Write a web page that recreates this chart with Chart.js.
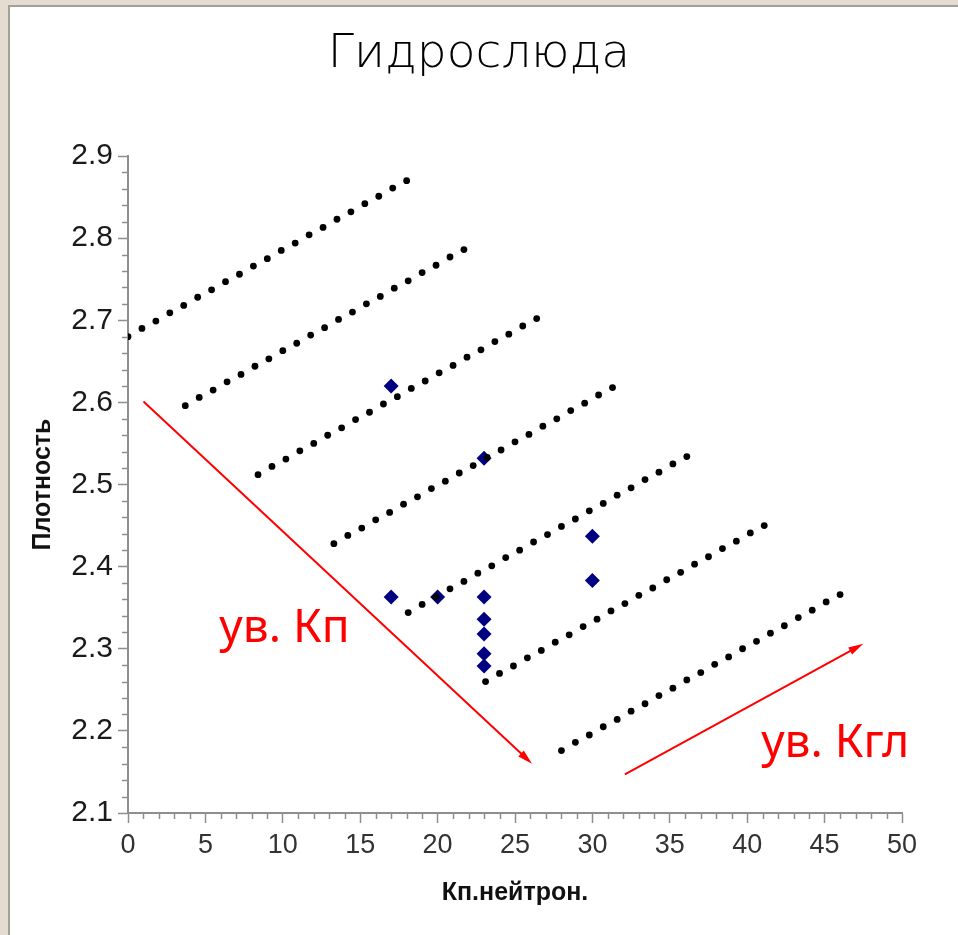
<!DOCTYPE html>
<html lang="ru">
<head>
<meta charset="utf-8">
<title>Гидрослюда</title>
<script src="https://cdn.jsdelivr.net/npm/chart.js@4.4.1/dist/chart.umd.min.js"></script>
<style>
  html, body { margin: 0; padding: 0; }
  body { width: 958px; height: 935px; background: #e4dcd0; position: relative; overflow: hidden; }
  .panel { position: absolute; left: 8px; top: 5px; right: 0; bottom: 0; background: #fff;
           border-left: 2px solid #a3a09a; border-top: 2px solid #a3a09a; }
  .wrap { position: absolute; left: 0; top: 0; width: 958px; height: 935px; }
</style>
</head>
<body>
<div class="panel"></div>
<div class="wrap"><canvas id="chart"></canvas></div>
<script>
// lines of equal porosity: density vs neutron porosity as clay content grows
const iso1X = [0, 0.9, 1.8, 2.7, 3.6, 4.5, 5.4, 6.3, 7.2, 8.1, 9.0, 9.9, 10.8, 11.7, 12.6, 13.5, 14.4, 15.3, 16.2, 17.1, 18.0];
const iso1Y = [2.680, 2.690, 2.699, 2.709, 2.718, 2.728, 2.737, 2.747, 2.756, 2.766, 2.775, 2.785, 2.794, 2.804, 2.813, 2.823, 2.832, 2.842, 2.851, 2.861, 2.870];
const iso2X = [3.7, 4.6, 5.5, 6.4, 7.3, 8.2, 9.1, 10.0, 10.9, 11.8, 12.7, 13.6, 14.5, 15.4, 16.3, 17.2, 18.1, 19.0, 19.9, 20.8, 21.7];
const iso2Y = [2.596, 2.606, 2.615, 2.625, 2.634, 2.644, 2.653, 2.663, 2.672, 2.682, 2.691, 2.701, 2.710, 2.720, 2.729, 2.739, 2.748, 2.758, 2.767, 2.777, 2.786];
const iso3X = [8.4, 9.3, 10.2, 11.1, 12.0, 12.9, 13.8, 14.7, 15.6, 16.5, 17.4, 18.3, 19.2, 20.1, 21.0, 21.9, 22.8, 23.7, 24.6, 25.5, 26.4];
const iso3Y = [2.512, 2.522, 2.531, 2.541, 2.550, 2.560, 2.569, 2.579, 2.588, 2.598, 2.607, 2.617, 2.626, 2.636, 2.645, 2.655, 2.664, 2.674, 2.683, 2.693, 2.702];
const iso4X = [13.3, 14.2, 15.1, 16.0, 16.9, 17.8, 18.7, 19.6, 20.5, 21.4, 22.3, 23.2, 24.1, 25.0, 25.9, 26.8, 27.7, 28.6, 29.5, 30.4, 31.3];
const iso4Y = [2.428, 2.438, 2.447, 2.457, 2.466, 2.476, 2.485, 2.495, 2.504, 2.514, 2.523, 2.533, 2.542, 2.552, 2.561, 2.571, 2.580, 2.590, 2.599, 2.609, 2.618];
const iso5X = [18.1, 19.0, 19.9, 20.8, 21.7, 22.6, 23.5, 24.4, 25.3, 26.2, 27.1, 28.0, 28.9, 29.8, 30.7, 31.6, 32.5, 33.4, 34.3, 35.2, 36.1];
const iso5Y = [2.344, 2.354, 2.363, 2.373, 2.382, 2.392, 2.401, 2.411, 2.420, 2.430, 2.439, 2.449, 2.458, 2.468, 2.477, 2.487, 2.496, 2.506, 2.515, 2.525, 2.534];
const iso6X = [23.1, 24.0, 24.9, 25.8, 26.7, 27.6, 28.5, 29.4, 30.3, 31.2, 32.1, 33.0, 33.9, 34.8, 35.7, 36.6, 37.5, 38.4, 39.3, 40.2, 41.1];
const iso6Y = [2.260, 2.270, 2.279, 2.289, 2.298, 2.308, 2.317, 2.327, 2.336, 2.346, 2.355, 2.365, 2.374, 2.384, 2.393, 2.403, 2.412, 2.422, 2.431, 2.441, 2.450];
const iso7X = [28.0, 28.9, 29.8, 30.7, 31.6, 32.5, 33.4, 34.3, 35.2, 36.1, 37.0, 37.9, 38.8, 39.7, 40.6, 41.5, 42.4, 43.3, 44.2, 45.1, 46.0];
const iso7Y = [2.176, 2.186, 2.195, 2.205, 2.214, 2.224, 2.233, 2.243, 2.252, 2.262, 2.271, 2.281, 2.290, 2.300, 2.309, 2.319, 2.328, 2.338, 2.347, 2.357, 2.366];

// measured samples
const sampleX = [17, 23, 30, 30, 17, 20, 23, 23, 23, 23, 23];
const sampleY = [2.620, 2.532, 2.437, 2.383, 2.363, 2.363, 2.363, 2.336, 2.318, 2.294, 2.279];

// trend arrows and their captions, in axis units
const arrowFromX = [1.0, 32.1];
const arrowFromY = [2.601, 2.147];
const arrowToX = [26.1, 47.5];
const arrowToY = [2.160, 2.306];
const noteText = ['ув. Кп', 'ув. Кгл'];
const noteX = [5.9, 40.9];
const noteY = [2.308, 2.168];

const AXIS_COLOR = '#8e8e8e';
const isoLines = [[iso1X, iso1Y], [iso2X, iso2Y], [iso3X, iso3Y], [iso4X, iso4Y], [iso5X, iso5Y], [iso6X, iso6Y], [iso7X, iso7Y]];

function toPoints(xs, ys) {
  return xs.map((x, i) => ({ x, y: ys[i] }));
}

const datasets = isoLines.map(([xs, ys]) => ({
  data: toPoints(xs, ys),
  showLine: false,
  pointRadius: 3.4,
  pointBackgroundColor: '#000',
  pointBorderWidth: 0,
}));
datasets.push({
  data: toPoints(sampleX, sampleY),
  showLine: false,
  pointStyle: 'rectRot',
  pointRadius: 7.5,
  pointBackgroundColor: '#000080',
  pointBorderWidth: 0,
});

// short unlabeled ticks between the major ones
const minorTicks = {
  id: 'minorTicks',
  afterDraw(chart) {
    const { ctx, scales: { x, y } } = chart;
    ctx.save();
    ctx.strokeStyle = AXIS_COLOR;
    ctx.lineWidth = 1.5;
    ctx.beginPath();
    for (let v = 0; v <= 50; v++) {
      if (v % 5 === 0) continue;
      const px = Math.round(x.getPixelForValue(v)) + 0.5;
      ctx.moveTo(px, y.bottom);
      ctx.lineTo(px, y.bottom + 6);
    }
    for (let i = 0; i <= 40; i++) {
      if (i % 5 === 0) continue;
      const py = Math.round(y.getPixelForValue(2.1 + i * 0.02)) + 0.5;
      ctx.moveTo(x.left - 6, py);
      ctx.lineTo(x.left, py);
    }
    ctx.stroke();
    ctx.restore();
  }
};

function drawArrow(ctx, x1, y1, x2, y2) {
  const a = Math.atan2(y2 - y1, x2 - x1);
  const c = Math.cos(a), s = Math.sin(a);
  const len = 15, half = 4;
  ctx.beginPath();
  ctx.moveTo(x1, y1);
  ctx.lineTo(x2 - c * len * 0.7, y2 - s * len * 0.7);
  ctx.stroke();
  ctx.beginPath();
  ctx.moveTo(x2, y2);
  ctx.lineTo(x2 - c * len + s * half, y2 - s * len - c * half);
  ctx.lineTo(x2 - c * len - s * half, y2 - s * len + c * half);
  ctx.closePath();
  ctx.fill();
}

const trendNotes = {
  id: 'trendNotes',
  afterDatasetsDraw(chart) {
    const { ctx, scales: { x, y } } = chart;
    ctx.save();
    ctx.strokeStyle = '#ff0000';
    ctx.fillStyle = '#ff0000';
    ctx.lineWidth = 2;
    arrowFromX.forEach((_, i) => {
      drawArrow(ctx,
        x.getPixelForValue(arrowFromX[i]), y.getPixelForValue(arrowFromY[i]),
        x.getPixelForValue(arrowToX[i]), y.getPixelForValue(arrowToY[i]));
    });
    ctx.font = '46px "Noto Sans", sans-serif';
    ctx.textAlign = 'left';
    ctx.textBaseline = 'alphabetic';
    noteText.forEach((t, i) => {
      ctx.fillText(t, x.getPixelForValue(noteX[i]), y.getPixelForValue(noteY[i]));
    });
    ctx.restore();
  }
};

new Chart(document.getElementById('chart'), {
  type: 'scatter',
  data: { datasets },
  options: {
    responsive: true,
    maintainAspectRatio: false,
    animation: false,
    events: [],
    layout: { padding: 0 },
    plugins: {
      legend: { display: false },
      tooltip: { enabled: false },
      title: {
        display: true,
        text: 'Гидрослюда',
        color: '#000',
        font: { family: '"DejaVu Sans", sans-serif', size: 47, weight: 200, lineHeight: 1.2 },
        padding: { top: 27, bottom: 72.6 },
      },
    },
    scales: {
      x: {
        type: 'linear',
        min: 0,
        max: 50,
        afterFit(scale) { scale.height = 122; },
        border: { color: AXIS_COLOR, width: 2 },
        grid: { drawOnChartArea: false, color: AXIS_COLOR, tickLength: 10, tickWidth: 1.5 },
        ticks: {
          stepSize: 5,
          padding: 6,
          color: '#333',
          font: { family: '"Liberation Sans", Arial, sans-serif', size: 27 },
        },
        title: {
          display: true,
          text: 'Кп.нейтрон.',
          color: '#111',
          font: { family: '"Liberation Sans", Arial, sans-serif', size: 25, weight: 'bold', lineHeight: 1.2 },
          padding: { top: 0, bottom: 27 },
        },
      },
      y: {
        type: 'linear',
        min: 2.1,
        max: 2.9,
        afterFit(scale) { scale.width = 128; },
        border: { color: AXIS_COLOR, width: 2 },
        grid: { drawOnChartArea: false, color: AXIS_COLOR, tickLength: 10, tickWidth: 1.5 },
        ticks: {
          stepSize: 0.1,
          padding: 5,
          color: '#1a1a1a',
          font: { family: '"Liberation Sans", Arial, sans-serif', size: 30 },
          callback: v => v.toFixed(1),
        },
        title: {
          display: true,
          text: 'Плотность',
          color: '#111',
          font: { family: '"Liberation Sans", Arial, sans-serif', size: 25, weight: 'bold', lineHeight: 1.2 },
          padding: { top: 28, bottom: 0 },
        },
      },
      // empty strip on the right so the plot ends at 50 with white space after it
      gutter: {
        type: 'linear',
        position: 'right',
        display: true,
        afterFit(scale) { scale.width = 56; },
        border: { display: false },
        grid: { display: false },
        ticks: { display: false },
      },
    },
  },
  plugins: [minorTicks, trendNotes],
});
</script>
</body>
</html>
